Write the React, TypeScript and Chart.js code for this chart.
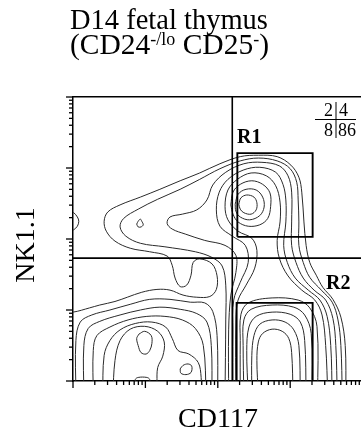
import React, { useEffect, useRef } from 'react';
import { Chart, registerables } from 'chart.js';

Chart.register(...registerables);

// ---- Axis ranges (log10 fluorescence, decades) ----
const xRangeLog = [0, 3.978];
const yRangeLog = [0, 4];
const tickDecades = [1, 10, 100, 1000];
const tickMultipliers = [1, 2, 3, 4, 5, 6, 7, 8, 9];
const majorTickValues = [1, 10, 100, 1000, 10000];

// ---- Gates (log10 units) ----
const quadrantLog = [2.2, 1.73]; // [CD117 threshold, NK1.1 threshold]
const gateR1 = [[2.27, 2.03], [3.31, 2.03], [3.31, 3.21], [2.27, 3.21], [2.27, 2.03]];
const gateR2 = [[2.26, -0.2], [2.26, 1.1], [3.31, 1.1], [3.31, -0.2]];
const quadrantPercents = ['2', '4', '8', '86'];

// ---- Contour lines (log10 CD117, log10 NK1.1) ----
const r1Core = [[2.29,2.49],[2.32,2.58],[2.40,2.62],[2.50,2.59],[2.54,2.51],[2.53,2.41],[2.46,2.35],[2.36,2.37],[2.31,2.42],[2.29,2.49]];
const r1Ring2 = [[2.24,2.49],[2.28,2.63],[2.39,2.70],[2.53,2.69],[2.62,2.59],[2.64,2.45],[2.58,2.33],[2.44,2.27],[2.31,2.31],[2.25,2.39],[2.24,2.49]];
const r1Ring3 = [[2.18,2.48],[2.21,2.66],[2.31,2.77],[2.47,2.82],[2.62,2.77],[2.72,2.65],[2.73,2.46],[2.69,2.29],[2.58,2.20],[2.42,2.18],[2.28,2.24],[2.21,2.35],[2.18,2.48]];
const joint1 = [[2.25,-0.20],[2.25,0.86],[2.28,1.14],[2.39,1.35],[2.51,1.59],[2.54,1.84],[2.47,2.01],[2.28,2.11],[2.14,2.27],[2.10,2.46],[2.14,2.69],[2.27,2.84],[2.46,2.93],[2.67,2.89],[2.80,2.75],[2.86,2.52],[2.86,2.24],[2.82,1.98],[2.85,1.73],[2.97,1.48],[3.16,1.28],[3.34,1.14],[3.44,0.93],[3.49,0.50],[3.52,-0.20]];
const joint2 = [[2.21,-0.20],[2.21,0.72],[2.22,1.14],[2.31,1.39],[2.42,1.67],[2.38,1.91],[2.20,2.04],[2.03,2.18],[1.98,2.41],[2.02,2.66],[2.14,2.84],[2.35,2.97],[2.58,3.01],[2.80,2.94],[2.90,2.77],[2.94,2.55],[2.94,2.24],[2.91,1.91],[2.96,1.67],[3.07,1.45],[3.25,1.28],[3.41,1.14],[3.51,0.91],[3.56,0.50],[3.58,-0.20]];
const joint3 = [[2.15,-0.20],[2.15,0.72],[2.18,1.21],[2.25,1.53],[2.25,1.77],[2.10,1.91],[1.82,1.98],[1.55,2.07],[1.37,2.14],[1.30,2.22],[1.34,2.31],[1.51,2.35],[1.71,2.41],[1.85,2.55],[1.93,2.76],[2.11,2.94],[2.36,3.06],[2.61,3.08],[2.85,3.03],[2.97,2.89],[3.02,2.66],[3.02,2.24],[3.02,1.91],[3.08,1.67],[3.18,1.45],[3.33,1.28],[3.49,1.14],[3.59,0.88],[3.63,0.50],[3.65,-0.20]];
const joint4 = [[2.10,-0.20],[2.11,0.86],[2.11,1.35],[2.06,1.62],[1.92,1.74],[1.69,1.82],[1.27,1.89],[0.93,1.94],[0.73,2.04],[0.65,2.17],[0.70,2.29],[0.90,2.42],[1.17,2.56],[1.48,2.70],[1.75,2.84],[2.03,2.99],[2.31,3.10],[2.56,3.14],[2.82,3.10],[3.00,2.99],[3.09,2.80],[3.11,2.55],[3.12,2.24],[3.12,1.91],[3.18,1.67],[3.27,1.46],[3.43,1.28],[3.58,1.11],[3.66,0.86],[3.70,0.50],[3.72,-0.20]];
const outerEnvelope = [[-0.18,0.97],[0,0.97],[0.23,1.03],[0.37,1.07],[0.58,1.12],[0.75,1.18],[0.95,1.25],[1.16,1.29],[1.34,1.28],[1.52,1.21],[1.71,1.18],[1.89,1.19],[1.98,1.29],[1.99,1.48],[1.92,1.65],[1.75,1.72],[1.66,1.67],[1.63,1.49],[1.57,1.35],[1.48,1.33],[1.41,1.45],[1.37,1.63],[1.30,1.76],[1.06,1.82],[0.79,1.87],[0.58,1.97],[0.46,2.11],[0.43,2.25],[0.48,2.38],[0.65,2.48],[0.93,2.59],[1.20,2.70],[1.48,2.82],[1.75,2.93],[2.03,3.06],[2.31,3.16],[2.56,3.18],[2.82,3.16],[3.01,3.04],[3.12,2.87],[3.16,2.66],[3.19,2.24],[3.22,1.91],[3.27,1.67],[3.36,1.49],[3.45,1.32],[3.59,1.15],[3.70,0.90],[3.76,0.50],[3.77,-0.20]];
const lrArch1 = [[2.56,-0.20],[2.54,0.29],[2.56,0.55],[2.62,0.67],[2.75,0.73],[2.89,0.70],[2.98,0.60],[3.02,0.40],[3.04,-0.20]];
const lrArch2 = [[2.47,-0.20],[2.47,0.36],[2.50,0.64],[2.58,0.80],[2.75,0.86],[2.93,0.83],[3.05,0.72],[3.12,0.50],[3.14,-0.20]];
const lrArch3 = [[2.42,-0.20],[2.40,0.43],[2.43,0.76],[2.53,0.91],[2.75,0.97],[3.00,0.94],[3.14,0.83],[3.20,0.57],[3.22,-0.20]];
const lrArch4 = [[2.36,-0.20],[2.35,0.50],[2.36,0.86],[2.46,1.01],[2.75,1.07],[3.05,1.04],[3.20,0.93],[3.29,0.67],[3.30,-0.20]];
const lrArch5 = [[2.31,-0.20],[2.31,0.57],[2.32,0.94],[2.42,1.10],[2.75,1.17],[3.11,1.14],[3.27,1.03],[3.37,0.77],[3.38,-0.20]];
const llArch1 = [[0.04,-0.20],[0.04,0.57],[0.10,0.83],[0.26,0.93],[0.51,1.00],[0.79,1.08],[1.06,1.15],[1.34,1.15],[1.62,1.11],[1.82,1.10],[1.93,0.98],[1.99,0.64],[2.00,-0.20]];
const llArch2 = [[0.15,-0.20],[0.15,0.50],[0.21,0.74],[0.37,0.84],[0.65,0.93],[0.93,1.00],[1.20,1.04],[1.48,1.01],[1.71,0.95],[1.85,0.83],[1.91,0.50],[1.92,-0.20]];
const llArch3 = [[0.28,-0.20],[0.28,0.43],[0.33,0.64],[0.51,0.76],[0.76,0.86],[1.02,0.91],[1.27,0.91],[1.51,0.86],[1.69,0.74],[1.80,0.50],[1.84,-0.20]];
const llArch4 = [[0.41,-0.20],[0.43,0.36],[0.51,0.57],[0.65,0.72],[0.86,0.81],[1.09,0.83],[1.28,0.76],[1.37,0.60],[1.45,0.43],[1.60,0.38],[1.73,0.26],[1.77,0.05],[1.77,-0.20]];
const llArch5 = [[0.55,-0.20],[0.58,0.29],[0.65,0.57],[0.79,0.73],[0.99,0.77],[1.17,0.70],[1.26,0.55],[1.24,0.35],[1.17,0.19],[1.16,-0.02],[1.16,-0.20]];
const llPeakLeft = [[0.91,0.66],[0.99,0.70],[1.08,0.64],[1.09,0.53],[1.06,0.43],[1.01,0.38],[0.94,0.40],[0.90,0.50],[0.88,0.60],[0.91,0.66]];
const llPeakRight = [[1.48,0.17],[1.52,0.22],[1.59,0.24],[1.64,0.21],[1.63,0.12],[1.56,0.09],[1.49,0.11],[1.48,0.17]];
const llBaseBump = [[0.84,-0.20],[0.86,0.02],[0.90,0.05],[1.02,0.05],[1.06,0.02],[1.08,-0.20]];
const leftEdgeLobe = [[-0.04,2.38],[0.01,2.37],[0.06,2.31],[0.08,2.25],[0.06,2.18],[0.01,2.13],[-0.04,2.11]];
const tailPeak = [[0.88,2.21],[0.90,2.25],[0.93,2.28],[0.95,2.25],[0.97,2.20],[0.94,2.17],[0.90,2.17],[0.88,2.21]];

const contourLines = [
  r1Core, r1Ring2, r1Ring3, joint1, joint2, joint3, joint4, outerEnvelope,
  lrArch1, lrArch2, lrArch3, lrArch4, lrArch5,
  llArch1, llArch2, llArch3, llArch4, llArch5,
  llPeakLeft, llPeakRight, llBaseBump, leftEdgeLobe, tailPeak,
];

const SERIF = "'Liberation Serif', 'Times New Roman', serif";

const toPoints = (pts: number[][]) => pts.map(([a, b]) => ({ x: Math.pow(10, a), y: Math.pow(10, b) }));
const tickValues = tickDecades.flatMap((d) => tickMultipliers.map((m) => m * d)).concat([10000]);

function drawRuns(ctx: CanvasRenderingContext2D, x: number, baseline: number, runs: { text: string; size: number; rise?: number }[]) {
  let cx = x;
  runs.forEach((r) => {
    ctx.font = `${r.size}px ${SERIF}`;
    ctx.fillText(r.text, cx, baseline - (r.rise || 0));
    cx += ctx.measureText(r.text).width;
  });
}

const decorPlugin = {
  id: 'decor',
  afterDraw(chart: any) {
    const { ctx, chartArea } = chart;
    const xs = chart.scales.x;
    const ys = chart.scales.y;
    ctx.save();
    ctx.strokeStyle = '#000';
    ctx.fillStyle = '#000';
    ctx.lineWidth = 1.3;
    // tick marks (log decades)
    tickValues.forEach((v) => {
      const len = majorTickValues.includes(v) ? 7 : 4;
      if (v <= xs.max) {
        const px = xs.getPixelForValue(v);
        ctx.beginPath();
        ctx.moveTo(px, chartArea.bottom);
        ctx.lineTo(px, chartArea.bottom + len);
        ctx.stroke();
      }
      if (v <= ys.max) {
        const py = ys.getPixelForValue(v);
        ctx.beginPath();
        ctx.moveTo(chartArea.left, py);
        ctx.lineTo(chartArea.left - len, py);
        ctx.stroke();
      }
    });

    // Title
    ctx.textBaseline = 'alphabetic';
    ctx.textAlign = 'left';
    drawRuns(ctx, 70, 29, [{ text: 'D14 fetal thymus', size: 28.5 }]);
    drawRuns(ctx, 70, 54, [
      { text: '(CD24', size: 29.5 },
      { text: '-/lo', size: 18, rise: 9 },
      { text: ' CD25', size: 29.5 },
      { text: '-', size: 18, rise: 9 },
      { text: ')', size: 29.5 },
    ]);

    // Axis titles
    ctx.font = `28px ${SERIF}`;
    ctx.textAlign = 'center';
    ctx.fillText('CD117', 218, 427);
    ctx.save();
    ctx.translate(34, 245);
    ctx.rotate(-Math.PI / 2);
    ctx.fillText('NK1.1', 0, 0);
    ctx.restore();

    // Gate labels
    ctx.font = `bold 20px ${SERIF}`;
    ctx.textAlign = 'left';
    ctx.fillText('R1', 237, 143);
    ctx.fillText('R2', 326, 289);

    // Quadrant percentages
    ctx.font = `18px ${SERIF}`;
    ctx.textAlign = 'right';
    ctx.fillText(quadrantPercents[0], 333, 116);
    ctx.fillText(quadrantPercents[2], 333, 136);
    ctx.textAlign = 'left';
    ctx.fillText(quadrantPercents[1], 339, 116);
    ctx.fillText(quadrantPercents[3], 338, 136);
    ctx.lineWidth = 1;
    ctx.beginPath();
    ctx.moveTo(315, 119.5);
    ctx.lineTo(356, 119.5);
    ctx.moveTo(336, 102);
    ctx.lineTo(336, 138);
    ctx.stroke();
    ctx.restore();
  },
};

export default function App() {
  const ref = useRef<HTMLCanvasElement | null>(null);
  useEffect(() => {
    document.body.style.margin = '0';
    const canvas = ref.current;
    if (!canvas) return;
    const lineSet = (pts: number[][]) => ({
      data: toPoints(pts),
      showLine: true,
      borderColor: '#2a2a2a',
      borderWidth: 1,
      pointRadius: 0,
      pointHoverRadius: 0,
      tension: 0.35,
      fill: false,
    });
    const gateSet = (pts: number[][], w: number) => ({
      data: toPoints(pts),
      showLine: true,
      borderColor: '#000',
      borderWidth: w,
      pointRadius: 0,
      pointHoverRadius: 0,
      tension: 0,
      fill: false,
    });
    const datasets: any[] = [
      gateSet([[quadrantLog[0], -0.2], [quadrantLog[0], 4.2]], 1.6),
      gateSet([[-0.2, quadrantLog[1]], [4.2, quadrantLog[1]]], 1.6),
      gateSet(gateR1, 1.9),
      gateSet(gateR2, 1.9),
      ...contourLines.map(lineSet),
    ];
    const axisCommon = {
      type: 'logarithmic' as const,
      grid: { display: false, drawTicks: false },
      ticks: { display: false },
      border: { display: true, color: '#000', width: 1.5 },
    };
    const chart = new Chart(canvas, {
      type: 'scatter',
      data: { datasets },
      options: {
        responsive: false,
        animation: false,
        devicePixelRatio: 1,
        events: [],
        layout: { padding: { left: 73, top: 97, right: 0, bottom: 48 } },
        plugins: { legend: { display: false }, tooltip: { enabled: false }, title: { display: false } },
        scales: {
          x: { ...axisCommon, position: 'bottom', min: Math.pow(10, xRangeLog[0]), max: Math.pow(10, xRangeLog[1]) },
          xTop: { ...axisCommon, axis: 'x', position: 'top', min: Math.pow(10, xRangeLog[0]), max: Math.pow(10, xRangeLog[1]) },
          y: { ...axisCommon, position: 'left', min: Math.pow(10, yRangeLog[0]), max: Math.pow(10, yRangeLog[1]) },
        },
      } as any,
      plugins: [decorPlugin],
    });
    return () => chart.destroy();
  }, []);
  return <canvas ref={ref} width={361} height={429} style={{ display: 'block', width: 361, height: 429 }} />;
}
